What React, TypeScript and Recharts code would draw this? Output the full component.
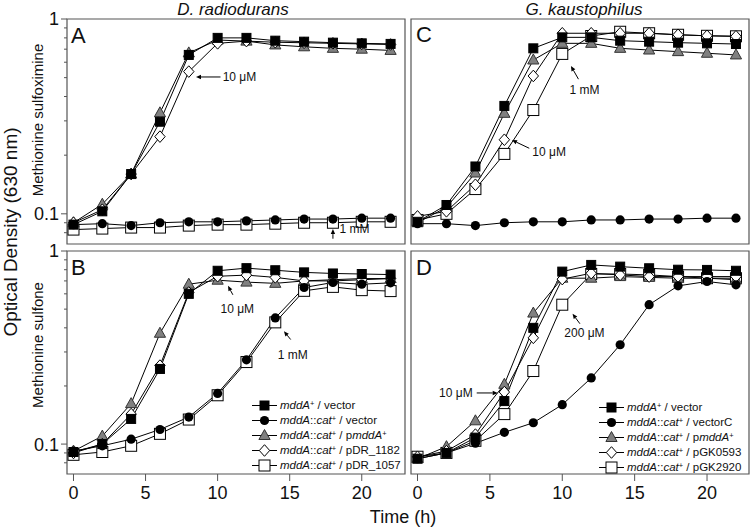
import React from 'react';
import { LineChart, Line, XAxis, YAxis, ReferenceArea, ReferenceLine, ReferenceDot } from 'recharts';

const TIME_H = [0, 2, 4, 6, 8, 10, 12, 14, 16, 18, 20, 22];
const X_TICKS = [0, 5, 10, 15, 20];
const Y_TICKS = [0.08, 0.09, 0.1, 0.2, 0.3, 0.4, 0.5, 0.6, 0.7, 0.8, 0.9, 1];
const Y_DOMAIN = [0.07, 1];
const X_DOMAIN_LEFT = [-0.45, 23];
const X_DOMAIN_RIGHT = [-0.45, 22.9];

// A: D. radiodurans, methionine sulfoximine
const A_WT = [0.088, 0.103, 0.16, 0.297, 0.654, 0.8, 0.8, 0.774, 0.765, 0.756, 0.75, 0.745];
const A_KO = [0.088, 0.089, 0.087, 0.09, 0.091, 0.091, 0.092, 0.093, 0.094, 0.094, 0.095, 0.095];
const A_COMP = [0.09, 0.112, 0.16, 0.33, 0.67, 0.78, 0.77, 0.736, 0.72, 0.707, 0.7, 0.69];
const A_1182 = [0.09, 0.105, 0.16, 0.249, 0.537, 0.75, 0.77, 0.76, 0.755, 0.75, 0.745, 0.74];
const A_1057 = [0.083, 0.084, 0.085, 0.085, 0.087, 0.088, 0.088, 0.089, 0.09, 0.09, 0.091, 0.091];

// B: D. radiodurans, methionine sulfone
const B_WT = [0.091, 0.1, 0.135, 0.245, 0.6, 0.79, 0.815, 0.795, 0.775, 0.765, 0.76, 0.755];
const B_KO = [0.092, 0.098, 0.106, 0.119, 0.138, 0.183, 0.273, 0.45, 0.647, 0.687, 0.673, 0.684];
const B_COMP = [0.092, 0.11, 0.162, 0.375, 0.673, 0.706, 0.69, 0.68, 0.7, 0.71, 0.72, 0.72];
const B_1182 = [0.09, 0.1, 0.143, 0.255, 0.61, 0.74, 0.75, 0.73, 0.7, 0.7, 0.71, 0.72];
const B_1057 = [0.088, 0.091, 0.098, 0.113, 0.134, 0.179, 0.266, 0.427, 0.622, 0.652, 0.627, 0.62];

// C: G. kaustophilus, methionine sulfoximine
const C_WT = [0.091, 0.111, 0.175, 0.358, 0.707, 0.805, 0.805, 0.774, 0.765, 0.756, 0.75, 0.744];
const C_KO = [0.089, 0.089, 0.087, 0.09, 0.091, 0.091, 0.093, 0.093, 0.094, 0.094, 0.095, 0.095];
const C_COMP = [0.09, 0.108, 0.162, 0.328, 0.616, 0.75, 0.75, 0.707, 0.693, 0.68, 0.667, 0.654];
const C_0593 = [0.097, 0.103, 0.141, 0.24, 0.51, 0.845, 0.845, 0.845, 0.845, 0.83, 0.82, 0.815];
const C_2920 = [0.093, 0.1, 0.134, 0.203, 0.341, 0.662, 0.818, 0.86, 0.845, 0.83, 0.82, 0.815];

// D: G. kaustophilus, methionine sulfone
const D_WT = [0.084, 0.09, 0.108, 0.167, 0.4, 0.782, 0.847, 0.83, 0.814, 0.8, 0.798, 0.79];
const D_KO = [0.084, 0.09, 0.101, 0.115, 0.129, 0.16, 0.22, 0.327, 0.527, 0.66, 0.695, 0.668];
const D_COMP = [0.084, 0.097, 0.132, 0.204, 0.477, 0.723, 0.723, 0.737, 0.73, 0.723, 0.723, 0.71];
const D_0593 = [0.086, 0.092, 0.112, 0.186, 0.355, 0.715, 0.767, 0.752, 0.737, 0.737, 0.737, 0.737];
const D_2920 = [0.086, 0.09, 0.104, 0.143, 0.239, 0.527, 0.76, 0.76, 0.752, 0.737, 0.723, 0.723];

// annotations: label, text point (t, OD), arrow tail -> head
const A_NOTES = [
  { label: '10 μM', t: 10.35, v: 0.504, anchor: 'start', from: [10.2, 0.504], to: [8.5, 0.504] },
  { label: '1 mM', t: 18.45, v: 0.0838, anchor: 'start', from: [18, 0.0745], to: [18, 0.0835] },
];
const B_NOTES = [
  { label: '10 μM', t: 10.2, v: 0.502, anchor: 'start', from: [11.06, 0.593], to: [10.72, 0.66] },
  { label: '1 mM', t: 14.17, v: 0.291, anchor: 'start', from: [15.07, 0.348], to: [14.6, 0.384] },
];
const C_NOTES = [
  { label: '1 mM', t: 10.5, v: 0.435, anchor: 'start', from: [11.12, 0.491], to: [10.6, 0.574] },
  { label: '10 μM', t: 7.93, v: 0.209, anchor: 'start', from: [7.72, 0.217], to: [6.53, 0.239] },
];
const D_NOTES = [
  { label: '200 μM', t: 10.14, v: 0.378, anchor: 'start', from: [11.22, 0.42], to: [10.71, 0.473] },
  { label: '10 μM', t: 3.81, v: 0.184, anchor: 'end', from: [4.09, 0.184], to: [5.54, 0.184] },
];

type Mark = 'square' | 'circle' | 'triangle' | 'diamond' | 'open';

const FONT = '"Liberation Sans", Arial, Helvetica, sans-serif';
const FRAME = '#555';

const Sup = ({ children }: { children: React.ReactNode }) => (
  <sup style={{ fontSize: '0.65em', lineHeight: 0, verticalAlign: '0.45em' }}>{children}</sup>
);

const DR_LEGEND: { mark: Mark; label: React.ReactNode }[] = [
  { mark: 'square', label: <><i>mddA</i><Sup>+</Sup> / vector</> },
  { mark: 'circle', label: <><i>mddA</i>::<i>cat</i><Sup>+</Sup> / vector</> },
  { mark: 'triangle', label: <><i>mddA</i>::<i>cat</i><Sup>+</Sup> / p<i>mddA</i><Sup>+</Sup></> },
  { mark: 'diamond', label: <><i>mddA</i>::<i>cat</i><Sup>+</Sup> / pDR_1182</> },
  { mark: 'open', label: <><i>mddA</i>::<i>cat</i><Sup>+</Sup> / pDR_1057</> },
];
const GK_LEGEND: { mark: Mark; label: React.ReactNode }[] = [
  { mark: 'square', label: <><i>mddA</i><Sup>+</Sup> / vector</> },
  { mark: 'circle', label: <><i>mddA</i>::<i>cat</i><Sup>+</Sup> / vectorC</> },
  { mark: 'triangle', label: <><i>mddA</i>::<i>cat</i><Sup>+</Sup> / p<i>mddA</i><Sup>+</Sup></> },
  { mark: 'diamond', label: <><i>mddA</i>::<i>cat</i><Sup>+</Sup> / pGK0593</> },
  { mark: 'open', label: <><i>mddA</i>::<i>cat</i><Sup>+</Sup> / pGK2920</> },
];

// draw order: open square, triangle, diamond, circle, filled square on top
const SERIES: { key: string; mark: Mark }[] = [
  { key: 'open', mark: 'open' },
  { key: 'comp', mark: 'triangle' },
  { key: 'diam', mark: 'diamond' },
  { key: 'ko', mark: 'circle' },
  { key: 'wt', mark: 'square' },
];

function buildRows(wt: number[], ko: number[], comp: number[], diam: number[], open: number[]) {
  return TIME_H.map((t, i) => ({ t, wt: wt[i], ko: ko[i], comp: comp[i], diam: diam[i], open: open[i] }));
}

function Marker({ cx, cy, mark }: { cx: number; cy: number; mark: Mark }) {
  if (cx == null || cy == null || isNaN(cx) || isNaN(cy)) return null;
  switch (mark) {
    case 'square':
      return <rect x={cx - 4.5} y={cy - 4.5} width={9} height={9} fill="#000" stroke="#000" strokeWidth={1} />;
    case 'open':
      return <rect x={cx - 5.5} y={cy - 5.5} width={11} height={11} fill="#fff" stroke="#000" strokeWidth={1} />;
    case 'circle':
      return <circle cx={cx} cy={cy} r={4.6} fill="#000" />;
    case 'triangle':
      return <path d={`M${cx},${cy - 6}L${cx + 5.6},${cy + 4}L${cx - 5.6},${cy + 4}Z`} fill="#808080" stroke="#333" strokeWidth={1} />;
    case 'diamond':
      return <path d={`M${cx},${cy - 5.8}L${cx + 5.2},${cy}L${cx},${cy + 5.8}L${cx - 5.2},${cy}Z`} fill="#fff" stroke="#000" strokeWidth={1} />;
  }
  return null;
}

const dotFor = (mark: Mark) => (p: any) => <Marker key={`${mark}-${p.index}`} cx={p.cx} cy={p.cy} mark={mark} />;

function YTick(p: any) {
  const { x, y, payload } = p;
  const v = payload.value;
  const major = v === 0.1 || v === 1;
  const ax = x + 8;
  const len = major ? 6 : 3;
  return (
    <g>
      <line x1={ax - len} x2={ax} y1={y} y2={y} stroke={FRAME} />
      {major && (
        <text x={ax - len - 2} y={y} dy="0.36em" textAnchor="end" fontSize={18} fill="#111">
          {String(v)}
        </text>
      )}
    </g>
  );
}

function Arrow(p: any) {
  const { x1, y1, x2, y2 } = p;
  const ang = Math.atan2(y2 - y1, x2 - x1);
  const L = 5;
  const W = 2.2;
  const bx = x2 - L * Math.cos(ang);
  const by = y2 - L * Math.sin(ang);
  const px = -Math.sin(ang) * W;
  const py = Math.cos(ang) * W;
  return (
    <g>
      <line x1={x1} y1={y1} x2={bx} y2={by} stroke="#000" strokeWidth={1} />
      <path d={`M${x2},${y2}L${bx + px},${by + py}L${bx - px},${by - py}Z`} fill="#000" />
    </g>
  );
}

type Note = { label: string; t: number; v: number; anchor: string; from: number[]; to: number[] };

function Panel(props: {
  left: number; top: number; width: number; height: number;
  margin: { top: number; right: number; bottom: number; left: number };
  rows: any[]; notes: Note[]; showX: boolean; showY: boolean; xDomain: number[];
}) {
  const { left, top, width, height, margin, rows, notes, showX, showY, xDomain } = props;
  return (
    <div style={{ position: 'absolute', left, top }}>
      <LineChart width={width} height={height} data={rows} margin={margin}>
        <XAxis
          dataKey="t" type="number" domain={xDomain} allowDataOverflow ticks={X_TICKS} interval={0}
          hide={!showX} height={53} tickSize={7} tickMargin={5} axisLine={false}
          tickLine={{ stroke: FRAME }} tick={{ fontSize: 18, fill: '#111' }}
        />
        {showY ? (
          <YAxis
            type="number" scale="log" domain={Y_DOMAIN} allowDataOverflow ticks={Y_TICKS} interval={0}
            width={67} tickSize={6} tickMargin={2} axisLine={false} tickLine={false}
            tick={(tp: any) => <YTick key={`yt-${tp.index}`} {...tp} />}
          />
        ) : (
          <YAxis hide type="number" scale="log" domain={Y_DOMAIN} allowDataOverflow />
        )}
        <ReferenceArea
          x1={xDomain[0]} x2={xDomain[1]} y1={Y_DOMAIN[0]} y2={Y_DOMAIN[1]}
          fill="none" fillOpacity={0} stroke={FRAME} strokeWidth={1.2} ifOverflow="visible"
        />
        {SERIES.map((s) => (
          <Line
            key={s.key} dataKey={s.key} type="linear" stroke="#000" strokeWidth={1}
            dot={dotFor(s.mark)} activeDot={false} isAnimationActive={false}
          />
        ))}
        {notes.map((n, i) => (
          <ReferenceLine
            key={`arrow-${i}`}
            segment={[{ x: n.from[0], y: n.from[1] }, { x: n.to[0], y: n.to[1] }]}
            ifOverflow="visible"
            shape={(lp: any) => <Arrow {...lp} />}
          />
        ))}
        {notes.map((n, i) => (
          <ReferenceDot
            key={`note-${i}`} x={n.t} y={n.v} r={0} ifOverflow="visible"
            shape={(dp: any) => (
              <text x={dp.cx} y={dp.cy} dy="0.36em" textAnchor={n.anchor as any} fontSize={12} fill="#111">
                {n.label}
              </text>
            )}
          />
        ))}
      </LineChart>
    </div>
  );
}

function LegendBox({ left, top, items }: { left: number; top: number; items: { mark: Mark; label: React.ReactNode }[] }) {
  return (
    <div style={{ position: 'absolute', left, top, fontSize: 11.5, color: '#111' }}>
      {items.map((it, i) => (
        <div key={i} style={{ display: 'flex', alignItems: 'center', height: 15, whiteSpace: 'nowrap' }}>
          <svg width={26} height={15} style={{ display: 'block' }}>
            <line x1={0} x2={25} y1={7.5} y2={7.5} stroke="#000" />
            <Marker cx={12.5} cy={7.5} mark={it.mark} />
          </svg>
          <span style={{ marginLeft: 2, lineHeight: '15px' }}>{it.label}</span>
        </div>
      ))}
    </div>
  );
}

export default function App() {
  const rowsA = buildRows(A_WT, A_KO, A_COMP, A_1182, A_1057);
  const rowsB = buildRows(B_WT, B_KO, B_COMP, B_1182, B_1057);
  const rowsC = buildRows(C_WT, C_KO, C_COMP, C_0593, C_2920);
  const rowsD = buildRows(D_WT, D_KO, D_COMP, D_0593, D_2920);
  return (
    <div style={{ position: 'absolute', left: 0, top: 0, width: 750, height: 527, background: '#fff', fontFamily: FONT, overflow: 'hidden' }}>
      <Panel left={0} top={0} width={410} height={250} margin={{ top: 19, right: 5, bottom: 6, left: 0 }}
        rows={rowsA} notes={A_NOTES} showX={false} showY xDomain={X_DOMAIN_LEFT} />
      <Panel left={0} top={240} width={410} height={287} margin={{ top: 11, right: 5, bottom: 0, left: 0 }}
        rows={rowsB} notes={B_NOTES} showX showY xDomain={X_DOMAIN_LEFT} />
      <Panel left={405} top={0} width={345} height={250} margin={{ top: 19, right: 1, bottom: 6, left: 6 }}
        rows={rowsC} notes={C_NOTES} showX={false} showY={false} xDomain={X_DOMAIN_RIGHT} />
      <Panel left={405} top={240} width={345} height={287} margin={{ top: 11, right: 1, bottom: 0, left: 6 }}
        rows={rowsD} notes={D_NOTES} showX showY={false} xDomain={X_DOMAIN_RIGHT} />
      <LegendBox left={252} top={398} items={DR_LEGEND} />
      <LegendBox left={599} top={400} items={GK_LEGEND} />
      <svg width={750} height={527} style={{ position: 'absolute', left: 0, top: 0, pointerEvents: 'none' }}>
        <text x={233} y={15} textAnchor="middle" fontSize={17} fontStyle="italic" fill="#111">D. radiodurans</text>
        <text x={584} y={15} textAnchor="middle" fontSize={17} fontStyle="italic" fill="#111">G. kaustophilus</text>
        <text transform="translate(17,232) rotate(-90)" textAnchor="middle" fontSize={19} fill="#111">Optical Density (630 nm)</text>
        <text transform="translate(43,120) rotate(-90)" textAnchor="middle" fontSize={15} fill="#111">Methionine sulfoximine</text>
        <text transform="translate(43,345) rotate(-90)" textAnchor="middle" fontSize={15} fill="#111">Methionine sulfone</text>
        <text x={403} y={523} textAnchor="middle" fontSize={18} fill="#111">Time (h)</text>
        <text x={71} y={43} fontSize={22} fill="#111">A</text>
        <text x={71} y={275} fontSize={22} fill="#111">B</text>
        <text x={416} y={42} fontSize={22} fill="#111">C</text>
        <text x={416} y={275} fontSize={22} fill="#111">D</text>
      </svg>
    </div>
  );
}
